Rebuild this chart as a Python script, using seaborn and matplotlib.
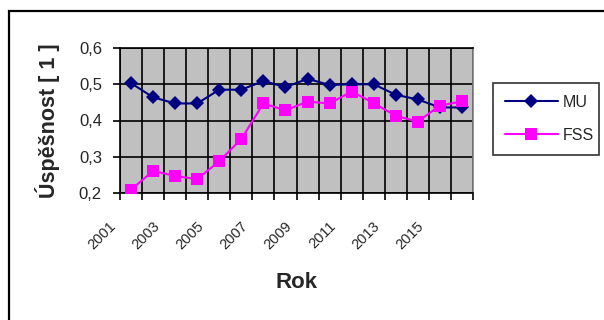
import matplotlib
matplotlib.use("Agg")
import matplotlib.pyplot as plt
import matplotlib.transforms as mtransforms
from matplotlib.patches import Rectangle
from matplotlib.ticker import FuncFormatter, MultipleLocator, FixedLocator
import seaborn as sns
import pandas as pd

years = list(range(2001, 2017))
mu = [0.503, 0.464, 0.447, 0.447, 0.485, 0.485, 0.509, 0.492, 0.515, 0.498,
      0.500, 0.500, 0.471, 0.458, 0.436, 0.436]
fss = [0.209, 0.261, 0.247, 0.238, 0.288, 0.349, 0.447, 0.428, 0.452, 0.447,
       0.480, 0.448, 0.413, 0.397, 0.441, 0.453]
series_names = ["MU", "FSS"]
tick_years = list(range(2001, 2017, 2))
y_label = "Úspěšnost [ 1 ]"
x_label = "Rok"

df = pd.DataFrame({
    "Rok": years * 2,
    "val": mu + fss,
    "series": ["MU"] * len(years) + ["FSS"] * len(years),
})

sns.set_style("white")
plt.rcParams["font.family"] = ["Liberation Sans", "DejaVu Sans"]

fig = plt.figure(figsize=(6.04, 3.2), dpi=100)
ax = fig.add_axes([120 / 604, 1 - 193 / 320, 353 / 604, 145 / 320])
ax.set_facecolor("#C0C0C0")

palette = {"MU": "#000080", "FSS": "#FF00FF"}
markers = {"MU": "D", "FSS": "s"}
msize = {"MU": 7.5, "FSS": 8.5}
sns.lineplot(data=df, x="Rok", y="val", hue="series", style="series",
             hue_order=series_names, style_order=series_names,
             palette=palette, markers=markers, dashes=False, ax=ax,
             linewidth=1.5, markersize=8.5, markeredgewidth=0, legend=False,
             zorder=5)
for line in ax.lines:
    if line.get_marker() == "D":
        line.set_markersize(msize["MU"])

ax.set_xlim(2000.5, 2016.5)
ax.set_ylim(0.2, 0.6)
ax.yaxis.set_major_locator(MultipleLocator(0.1))
ax.yaxis.set_major_formatter(FuncFormatter(lambda v, p: f"{v:.1f}".replace(".", ",")))
ax.xaxis.set_major_locator(FixedLocator(tick_years))
ax.xaxis.set_minor_locator(FixedLocator([y + 0.5 for y in range(2000, 2017)]))

ax.grid(False)
ax.grid(True, which="minor", axis="x", color="black", linewidth=1.2)
ax.grid(True, which="major", axis="y", color="black", linewidth=1.2)
ax.set_axisbelow(True)

ax.tick_params(axis="y", which="major", direction="out", length=5, width=1.2,
               color="black", labelsize=12, pad=8, left=True)
ax.tick_params(axis="x", which="major", length=0, labelsize=10.5, pad=20)
ax.tick_params(axis="x", which="minor", direction="out", length=5, width=1.2,
               color="black", bottom=True)

offset = mtransforms.ScaledTranslation(-0.13, 0.02, fig.dpi_scale_trans)
for lab in ax.get_xticklabels():
    lab.set_rotation(45)
    lab.set_ha("right")
    lab.set_va("top")
    lab.set_transform(lab.get_transform() + offset)

for side in ["left", "bottom", "top"]:
    ax.spines[side].set_color("black")
    ax.spines[side].set_linewidth(1.2)
ax.spines["right"].set_color("#808080")
ax.spines["right"].set_linewidth(1.2)

ax.set_ylabel(y_label, fontsize=15.5, fontweight="bold")
ax.yaxis.set_label_coords(-0.17, 0.5)
ax.set_xlabel(x_label, fontsize=16, fontweight="bold")
ax.xaxis.set_label_coords(0.5, -0.62)
ax.xaxis.label.set_va("center")

handles = [plt.Line2D([], [], color=palette[n], marker=markers[n],
                      markersize=msize[n], markeredgewidth=0,
                      linewidth=1.5) for n in series_names]
leg = fig.legend(handles, series_names, loc="upper left",
                 bbox_to_anchor=(493 / 604, 1 - 152 / 320, 106 / 604, 69 / 320),
                 bbox_transform=fig.transFigure, mode="expand",
                 fontsize=11.5, handlelength=3.3, frameon=True, fancybox=False,
                 borderpad=0.75, labelspacing=1.1, handletextpad=0.3,
                 borderaxespad=0)
leg.get_frame().set_edgecolor("black")
leg.get_frame().set_linewidth(1.2)

fig.patches.append(Rectangle((8.5 / 604, -0.1), 1.2, 1 - 10.5 / 320 + 0.1,
                             transform=fig.transFigure, fill=False,
                             edgecolor="black", linewidth=1.6, zorder=0))

fig.savefig("out.png", dpi=100, facecolor="white")
